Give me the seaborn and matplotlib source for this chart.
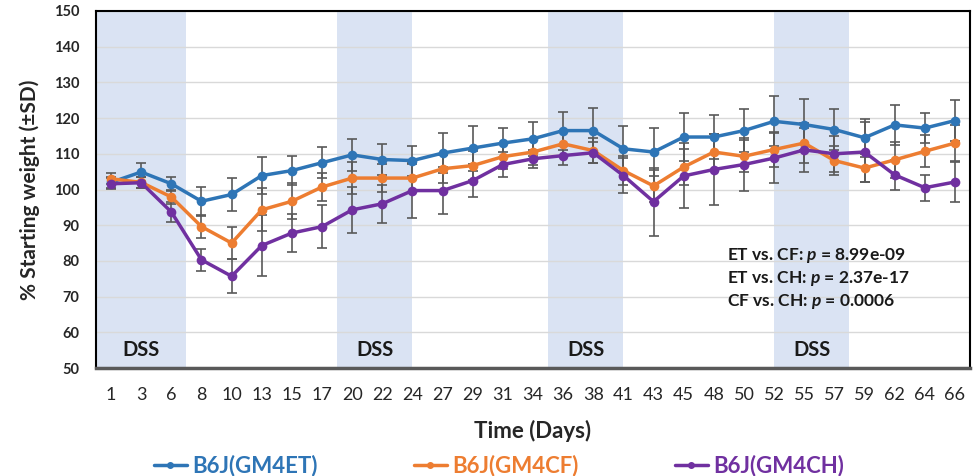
import pandas as pd
import numpy as np
import matplotlib
matplotlib.use('Agg')
import matplotlib.pyplot as plt
from matplotlib.lines import Line2D
import seaborn as sns

# data
days = [1, 3, 6, 8, 10, 13, 15, 17, 20, 22, 24, 27, 29, 31, 34, 36, 38, 41, 43,
        45, 48, 50, 52, 55, 57, 59, 62, 64, 66]
strains = ['B6J(GM4ET)', 'B6J(GM4CF)', 'B6J(GM4CH)']
et_mean = [102.0, 104.9, 101.6, 96.7, 98.6, 103.9, 105.3, 107.5, 109.7, 108.4, 108.1,
           110.2, 111.6, 113.0, 114.2, 116.5, 116.5, 111.4, 110.5, 114.7, 114.7, 116.5,
           119.1, 118.2, 116.8, 114.5, 118.1, 117.2, 119.3]
cf_mean = [103.0, 102.0, 97.9, 89.6, 85.0, 94.3, 96.7, 100.7, 103.2, 103.2, 103.2,
           105.8, 106.7, 109.2, 110.5, 112.8, 110.9, 105.3, 101.0, 106.3, 110.5, 109.3,
           111.2, 113.0, 108.1, 106.0, 108.3, 110.7, 113.0]
ch_mean = [101.6, 101.9, 93.7, 80.3, 75.7, 84.3, 87.8, 89.6, 94.3, 96.0, 99.7,
           99.7, 102.5, 107.0, 108.6, 109.5, 110.3, 103.9, 96.6, 103.8, 105.6, 107.0,
           108.8, 111.1, 110.0, 110.5, 104.1, 100.5, 102.1]
et_sd = [1.5, 2.5, 2.0, 4.0, 4.6, 5.2, 4.0, 4.4, 4.5, 4.4, 4.2, 5.6, 6.3, 4.2, 4.7,
         5.3, 6.4, 6.5, 6.7, 6.8, 6.2, 6.1, 7.0, 7.2, 5.8, 5.3, 5.6, 4.3, 5.8]
cf_sd = [1.5, 1.5, 2.0, 3.2, 4.6, 6.0, 5.0, 4.0, 4.5, 4.0, 4.0, 4.0, 4.0, 3.5, 3.5,
         3.5, 3.5, 4.0, 4.5, 5.0, 5.0, 4.5, 5.0, 5.5, 4.0, 4.0, 5.0, 4.5, 5.0]
ch_sd = [1.5, 1.5, 2.7, 3.0, 4.7, 8.5, 5.3, 6.0, 6.5, 5.3, 7.7, 6.5, 4.6, 3.4, 2.6,
         2.6, 2.9, 4.9, 9.5, 9.1, 9.9, 7.3, 6.9, 6.2, 5.0, 8.3, 4.3, 3.6, 5.7]

# DSS periods, in category positions (start, end)
dss_start = [-0.5, 7.5, 14.5, 22.0]
dss_end = [2.5, 10.0, 17.0, 24.5]

pvals = ['ET vs. CF: $\\mathbfit{p}$ = 8.99e-09',
         'ET vs. CH: $\\mathbfit{p}$ = 2.37e-17',
         'CF vs. CH: $\\mathbfit{p}$ = 0.0006']

colors = ['#2E75B6', '#ED7D31', '#7030A0']

sns.set_style('white')
plt.rcParams['font.family'] = ['Lato', 'DejaVu Sans']
plt.rcParams['mathtext.fontset'] = 'custom'
plt.rcParams['mathtext.bfit'] = 'Lato:italic:bold'

# long form table
pos = list(range(len(days)))
df = pd.DataFrame({
    'pos': pos * 3,
    'weight': et_mean + cf_mean + ch_mean,
    'sd': et_sd + cf_sd + ch_sd,
    'strain': [s for s in strains for _ in days],
})

fig = plt.figure(figsize=(9.73, 4.76), dpi=100)
ax = fig.add_axes([96 / 973, 1 - 368 / 476, 874 / 973, 357 / 476])

for s0, s1 in zip(dss_start, dss_end):
    ax.axvspan(s0, s1, color='#DAE3F3', lw=0, zorder=0)
    ax.text((s0 + s1) / 2, 55, 'DSS', ha='center', va='center',
            fontsize=14.5, fontweight='bold', color='#1a1a1a', zorder=1)

ax.yaxis.grid(True, color='#D9D9D9', lw=1, zorder=0.5)
ax.set_axisbelow(True)

for s in strains:
    sub = df[df['strain'] == s]
    ax.errorbar(sub['pos'], sub['weight'], yerr=sub['sd'], fmt='none',
                ecolor='#595959', elinewidth=1.2, capsize=3.5, capthick=1.2, zorder=2)

sns.lineplot(data=df, x='pos', y='weight', hue='strain', palette=colors,
             marker='o', markersize=7, markeredgewidth=0, linewidth=2.5,
             legend=False, ax=ax, zorder=3)

ax.set_xlim(-0.5, len(days) - 0.5)
ax.set_ylim(50, 150)
ax.set_yticks(range(50, 151, 10))
ax.set_xticks(pos)
ax.set_xticklabels(days)
ax.tick_params(axis='x', length=0, pad=14, labelsize=13)
ax.tick_params(axis='y', length=0, pad=12, labelsize=10.5)
for lab in ax.get_yticklabels():
    lab.set_fontweight('bold')

ax.set_xlabel('Time (Days)', fontsize=16, fontweight='bold', labelpad=12)
ax.set_ylabel('% Starting weight (±SD)', fontsize=15, fontweight='bold', labelpad=10)

for side in ['top', 'right', 'left']:
    ax.spines[side].set_color('black')
    ax.spines[side].set_linewidth(1.5)
ax.spines['bottom'].set_color('#595959')
ax.spines['bottom'].set_linewidth(2.5)

for i, txt in enumerate(pvals):
    ax.text(0.722, 0.3165 - i * 0.065, txt, transform=ax.transAxes,
            ha='left', va='center', fontsize=12.5, fontweight='bold', color='#1a1a1a')

handles = [Line2D([], [], color=c, lw=2.5, marker='o', markersize=4) for c in colors]
fig.legend(handles, strains, loc='center', bbox_to_anchor=(499 / 973, 1 - 466 / 476),
           ncol=3, frameon=False, labelcolor='linecolor',
           prop={'size': 16, 'weight': 'bold'},
           handlelength=1.5, handletextpad=0.25, columnspacing=4.3)

fig.savefig('out.png', dpi=100)
